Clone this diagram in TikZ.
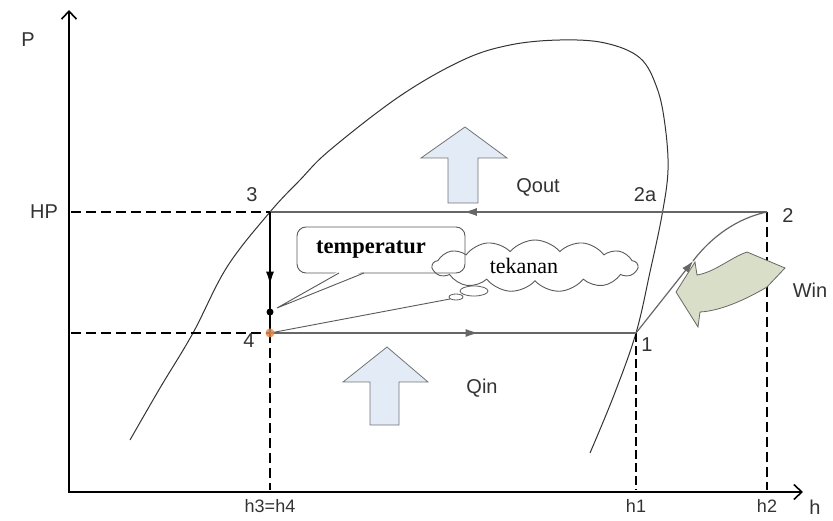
\documentclass[tikz,border=0pt]{standalone}
\usepackage{fontspec}
\setmainfont{Liberation Sans}
\newfontfamily\serifx{Liberation Serif}
\usetikzlibrary{arrows.meta,shapes.symbols,decorations.markings}
\definecolor{qblue}{HTML}{E3EBF7}
\definecolor{wgreen}{HTML}{D9DEC9}
\definecolor{dotorange}{HTML}{E8884A}
\begin{document}
\begin{tikzpicture}[x=1pt,y=-1pt,
  axisline/.style={line width=2pt,{Straight Barb[length=8pt,width=15pt,line width=1.6pt]}-{Straight Barb[length=8pt,width=15pt,line width=1.6pt]}},
  guide/.style={line width=1.8pt,dash pattern=on 10pt off 5pt},
  guidethick/.style={line width=2.8pt,dash pattern=on 9pt off 4pt},
  proc/.style={line width=1.2pt,draw=black!60},
  dome/.style={line width=1pt,draw=black!80},
  lbl/.style={font=\fontsize{20}{22}\selectfont,text=black!80},
  hlbl/.style={font=\fontsize{18}{20}\selectfont,text=black!80},
  blockarrow/.style={draw=black!55,line width=0.8pt,fill=qblue},
  midarrow/.style={postaction={decorate},decoration={markings,mark=at position #1 with {\arrow{Latex[length=13pt,width=8pt]}}}},
]
\useasboundingbox (0,0) rectangle (833,521);

% key coordinates
\coordinate (O) at (69,492);
\coordinate (ytop) at (69,10);
\coordinate (xend) at (803,492);
\coordinate (p3) at (270,212);
\coordinate (p2) at (767,212);
\coordinate (p4) at (270,333);
\coordinate (p1) at (636,333);
\coordinate (hp) at (71,212);
\coordinate (lp) at (71,333);
\coordinate (b34) at (270,490);
\coordinate (b1) at (636,490);
\coordinate (b2) at (767,490);
\coordinate (dotT) at (270,312);
\coordinate (c1) at (693,261);
\coordinate (ttip) at (277,308);

% saturation dome
\draw[dome] plot[smooth,tension=0.6] coordinates {(130,440) (160,388) (193,333) (227,267) (270,212) (300,180) (330,150) (400,96) (463,60) (510,45) (560,40) (605,43) (640,58) (657,88) (665,125) (668,170) (662,215) (650,272) (636,333) (614,395) (590,453)};

% guide lines
\draw[guide] (hp) -- (p3);
\draw[guide] (lp) -- (p4);
\draw[guide] (p4) -- (b34);
\draw[guidethick] (p1) -- (b1);
\draw[guide] (p2) -- (b2);

% axes
\draw[axisline] (ytop) -- (O) -- (xend);

% cycle
\draw[proc,midarrow=0.61] (p2) -- (p3);
\draw[proc,midarrow=0.57] (p4) -- (p1);
\draw[line width=1.2pt,midarrow=0.6] (p3) -- (p4);
\draw[proc,-{Latex[length=12pt,width=8pt]}] (p1) -- (c1);
\draw[proc] (c1) .. controls (712,236) and (738,218) .. (p2);

% heat arrows
\draw[blockarrow] (448,203) -- (448,158) -- (421,158) -- (465,127) -- (507,158) -- (478,158) -- (478,203) -- cycle;
\draw[blockarrow] (370,425) -- (370,382) -- (343,382) -- (387,347) -- (428,382) -- (399,382) -- (399,425) -- cycle;
\draw[draw=black!60,fill=wgreen,line width=0.8pt] (676,292) -- (695,262) -- (697,275) .. controls (715,272) and (730,258) .. (747,252) -- (785,268) -- (767,287) .. controls (745,300) and (720,311) .. (700,312) -- (698,327) -- cycle;

% callouts
\node[cloud,draw=black!65,line width=0.9pt,cloud puffs=13,cloud puff arc=100,aspect=4,minimum width=205pt,minimum height=52pt,inner sep=0pt] (tekcloud) at (535,266) {};
\node[font=\serifx\fontsize{22}{24}\selectfont] (tek) at (524,266) {tekanan};
\draw[black!65,line width=0.8pt] (474,291) ellipse (14 and 5);
\draw[black!65,line width=0.8pt] (456,297) ellipse (7 and 3);
\draw[black!65,line width=0.9pt] (p4) -- (450,299);

\draw[black!65,line width=0.9pt,rounded corners=9pt] (297,227) rectangle (465,273);
\node[font=\serifx\bfseries\fontsize{22.5}{24}\selectfont] (temp) at (371,250) {temperatur};
\fill[white] (339,271) -- (ttip) -- (364,271) -- cycle;
\draw[black!65,line width=0.9pt] (339,273) -- (ttip) -- (364,273);

% points
\fill (dotT) circle (3.5);
\fill[dotorange,opacity=0.85] (p4) circle (4.5);

% labels
\node[lbl] (lP) at (28,40) {P};
\node[lbl] (lHP) at (44,212) {HP};
\node[lbl] (l3) at (252,195) {3};
\node[lbl] (l4) at (249,341) {4};
\node[lbl] (l1) at (647,345) {1};
\node[lbl] (l2) at (788,216) {2};
\node[lbl] (l2a) at (645,195) {2a};
\node[lbl] (lQout) at (538,187) {Qout};
\node[lbl] (lQin) at (482,388) {Qin};
\node[lbl] (lWin) at (810,290) {Win};
\node[hlbl] (lh34) at (270,506) {h3=h4};
\node[hlbl] (lh1) at (636,506) {h1};
\node[hlbl] (lh2) at (767,506) {h2};
\node[lbl] (lh) at (815,507) {h};
\end{tikzpicture}
\end{document}
